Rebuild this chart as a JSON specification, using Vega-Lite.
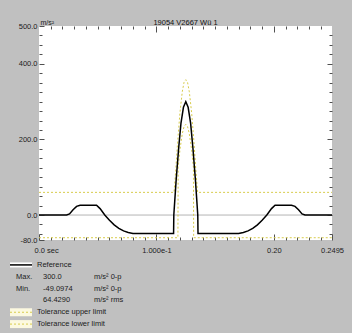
{
  "$schema": "https://vega.github.io/schema/vega-lite/v6.json",
  "background": "#c0c0c0",
  "padding": {"left": 6, "top": 18, "right": 9, "bottom": 3},
  "config": {
    "font": "Liberation Sans",
    "view": {"stroke": null},
    "axis": {"domain": false, "grid": false, "tickColor": "#505050", "labelColor": "#202020", "labelFontSize": 7.5, "labelFont": "Liberation Sans", "title": null, "labelFlush": false}
  },
  "datasets": {
    "ref": [
      {"t": 0, "v": 0}, {"t": 0.0235, "v": 0}, {"t": 0.026, "v": 3}, {"t": 0.029, "v": 14}, {"t": 0.032, "v": 23}, {"t": 0.035, "v": 26},
      {"t": 0.049, "v": 26}, {"t": 0.052, "v": 17}, {"t": 0.056, "v": 0}, {"t": 0.06, "v": -14}, {"t": 0.064, "v": -26}, {"t": 0.068, "v": -35},
      {"t": 0.072, "v": -42}, {"t": 0.076, "v": -46}, {"t": 0.08, "v": -48.5}, {"t": 0.084, "v": -49.1}, {"t": 0.1146, "v": -49.1},
      {"t": 0.1148, "v": 0}, {"t": 0.1168, "v": 93}, {"t": 0.1189, "v": 176}, {"t": 0.1209, "v": 243}, {"t": 0.123, "v": 285}, {"t": 0.125, "v": 300},
      {"t": 0.127, "v": 285}, {"t": 0.1291, "v": 243}, {"t": 0.1311, "v": 176}, {"t": 0.1332, "v": 93}, {"t": 0.1352, "v": 0}, {"t": 0.1354, "v": -49.1},
      {"t": 0.166, "v": -49.1}, {"t": 0.17, "v": -48.5}, {"t": 0.174, "v": -46}, {"t": 0.178, "v": -42}, {"t": 0.182, "v": -35}, {"t": 0.186, "v": -26},
      {"t": 0.19, "v": -14}, {"t": 0.194, "v": 0}, {"t": 0.198, "v": 17}, {"t": 0.201, "v": 26}, {"t": 0.215, "v": 26}, {"t": 0.218, "v": 23},
      {"t": 0.221, "v": 14}, {"t": 0.224, "v": 3}, {"t": 0.2265, "v": 0}, {"t": 0.2495, "v": 0}
    ],
    "upper": [
      {"t": 0, "v": 60}, {"t": 0.115, "v": 60}, {"t": 0.1165, "v": 121}, {"t": 0.118, "v": 191}, {"t": 0.12, "v": 270}, {"t": 0.122, "v": 326},
      {"t": 0.1235, "v": 351}, {"t": 0.125, "v": 358}, {"t": 0.1265, "v": 351}, {"t": 0.128, "v": 326}, {"t": 0.13, "v": 270}, {"t": 0.132, "v": 191},
      {"t": 0.1335, "v": 121}, {"t": 0.135, "v": 60}, {"t": 0.2495, "v": 60}
    ],
    "lower": [
      {"t": 0, "v": -60}, {"t": 0.1183, "v": -60}, {"t": 0.1185, "v": 126}, {"t": 0.12, "v": 172}, {"t": 0.122, "v": 215}, {"t": 0.1235, "v": 234},
      {"t": 0.125, "v": 240}, {"t": 0.1265, "v": 234}, {"t": 0.128, "v": 215}, {"t": 0.13, "v": 172}, {"t": 0.1315, "v": 126}, {"t": 0.1317, "v": -60},
      {"t": 0.2495, "v": -60}
    ],
    "zero": [{"t": 0, "v": 0}, {"t": 0.2495, "v": 0}],
    "keys": [
      {"r": 0, "c": 0, "c2": 2, "kind": "ref"},
      {"r": 4, "c": 0, "c2": 2, "kind": "tol"},
      {"r": 5, "c": 0, "c2": 2, "kind": "tol"}
    ],
    "texts": [
      {"r": 0, "c": 3, "text": "Reference"},
      {"r": 1, "c": 1, "text": "Max."}, {"r": 1, "c": 4, "text": "300.0"}, {"r": 1, "c": 5, "text": "m/s² 0-p"},
      {"r": 2, "c": 1, "text": "Min."}, {"r": 2, "c": 4, "text": "-49.0974"}, {"r": 2, "c": 5, "text": "m/s² 0-p"},
      {"r": 3, "c": 4, "text": "64.4290"}, {"r": 3, "c": 5, "text": "m/s² rms"},
      {"r": 4, "c": 3, "text": "Tolerance upper limit"},
      {"r": 5, "c": 3, "text": "Tolerance lower limit"}
    ]
  },
  "spacing": 19,
  "bounds": "flush",
  "vconcat": [
    {
      "width": 293,
      "height": 214,
      "title": {"text": "19054 V2667 Wü 1", "fontSize": 7.5, "fontWeight": "normal", "font": "Liberation Sans", "color": "#101010", "offset": -8, "frame": "group"},
      "view": {"fill": "white", "stroke": null},
      "resolve": {"axis": {"x": "independent", "y": "independent"}},
      "layer": [
        {
          "data": {"name": "zero"},
          "mark": {"type": "line", "color": "#b4b4b4", "strokeWidth": 1},
          "encoding": {
            "x": {"field": "t", "type": "quantitative", "scale": {"domain": [0, 0.2495], "nice": false, "zero": false},
              "axis": {"orient": "top", "values": [0.1, 0.2], "labels": false, "tickSize": -6}},
            "y": {"field": "v", "type": "quantitative", "scale": {"domain": [-66, 500], "nice": false, "zero": false},
              "axis": {"orient": "right", "values": [0, 200, 400], "labels": false, "tickSize": -5}}
          }
        },
        {
          "data": {"name": "upper"},
          "mark": {"type": "line", "color": "#d8cc4c", "strokeWidth": 1, "strokeDash": [2, 2]},
          "encoding": {
            "x": {"field": "t", "type": "quantitative", "scale": {"domain": [0, 0.2495], "nice": false, "zero": false},
              "axis": {"orient": "top", "values": [0.01, 0.02, 0.03, 0.04, 0.05, 0.06, 0.07, 0.08, 0.09, 0.11, 0.12, 0.13, 0.14, 0.15, 0.16, 0.17, 0.18, 0.19, 0.21, 0.22, 0.23, 0.24], "labels": false, "tickSize": -3}},
            "y": {"field": "v", "type": "quantitative", "scale": {"domain": [-66, 500], "nice": false, "zero": false},
              "axis": {"orient": "right", "values": [-50, -25, 25, 50, 75, 100, 125, 150, 175, 225, 250, 275, 300, 325, 350, 375, 425, 450, 475], "labels": false, "tickSize": -3}}
          }
        },
        {
          "data": {"name": "lower"},
          "mark": {"type": "line", "color": "#d8cc4c", "strokeWidth": 1, "strokeDash": [2, 2]},
          "encoding": {
            "x": {"field": "t", "type": "quantitative", "scale": {"domain": [0, 0.2495], "nice": false, "zero": false},
              "axis": {"orient": "bottom", "values": [0.01, 0.02, 0.03, 0.04, 0.05, 0.06, 0.07, 0.08, 0.09, 0.11, 0.12, 0.13, 0.14, 0.15, 0.16, 0.17, 0.18, 0.19, 0.21, 0.22, 0.23, 0.24], "labels": false, "tickSize": -3}},
            "y": {"field": "v", "type": "quantitative", "scale": {"domain": [-66, 500], "nice": false, "zero": false},
              "axis": {"orient": "left", "values": [-50, -25, 25, 50, 75, 100, 125, 150, 175, 225, 250, 275, 300, 325, 350, 375, 425, 450, 475], "labels": false, "tickSize": -3}}
          }
        },
        {
          "data": {"name": "ref"},
          "mark": {"type": "line", "color": "#000000", "strokeWidth": 1.5},
          "encoding": {
            "x": {"field": "t", "type": "quantitative", "scale": {"domain": [0, 0.2495], "nice": false, "zero": false},
              "axis": {"orient": "bottom", "values": [0, 0.1, 0.2, 0.2495], "tickSize": -6, "labelPadding": 12,
                "labelExpr": "datum.value == 0 ? '0.0 sec' : datum.value == 0.1 ? '1.000e-1' : datum.value == 0.2 ? '0.20' : '0.2495'",
                "labelAlign": {"condition": {"test": "datum.value == 0", "value": "left"}, "value": "center"},
                "labelOffset": {"condition": {"test": "datum.value == 0", "value": -5}, "value": 0}}},
            "y": {"field": "v", "type": "quantitative", "scale": {"domain": [-66, 500], "nice": false, "zero": false},
              "axis": {"orient": "left", "values": [-66, 0, 200, 400, 500], "tickSize": -5, "labelPadding": 7,
                "labelExpr": "datum.value < -50 ? '-80.0' : format(datum.value, '.1f')",
                "title": "m/s²", "titleAngle": 0, "titleAlign": "left", "titleBaseline": "bottom", "titleX": 1, "titleY": -1,
                "titleFontSize": 7, "titleFontWeight": "normal", "titleColor": "#202020", "titleFont": "Liberation Sans"}}
          }
        }
      ]
    },
    {
      "width": 293,
      "height": 71,
      "view": {"stroke": null, "fill": null},
      "encoding": {
        "y": {"field": "r", "type": "quantitative", "scale": {"domain": [-0.5, 5.5], "reverse": true}, "axis": null}
      },
      "layer": [
        {
          "data": {"name": "keys"},
          "transform": [{"filter": "datum.kind == 'ref'"}],
          "mark": {"type": "rule", "color": "#ffffff", "strokeWidth": 5},
          "encoding": {
            "x": {"field": "c", "type": "quantitative", "scale": {"domain": [0, 1, 2, 3, 4, 5], "range": [-29, -23, -7, -2, 4, 55]}, "axis": null},
            "x2": {"field": "c2"}
          }
        },
        {
          "data": {"name": "keys"},
          "transform": [{"filter": "datum.kind == 'ref'"}],
          "mark": {"type": "rule", "color": "#000000", "strokeWidth": 1.5},
          "encoding": {
            "x": {"field": "c", "type": "quantitative", "scale": {"domain": [0, 1, 2, 3, 4, 5], "range": [-29, -23, -7, -2, 4, 55]}, "axis": null},
            "x2": {"field": "c2"}
          }
        },
        {
          "data": {"name": "keys"},
          "transform": [{"filter": "datum.kind == 'tol'"}],
          "mark": {"type": "rule", "color": "#fcf9e0", "strokeWidth": 8},
          "encoding": {
            "x": {"field": "c", "type": "quantitative", "scale": {"domain": [0, 1, 2, 3, 4, 5], "range": [-29, -23, -7, -2, 4, 55]}, "axis": null},
            "x2": {"field": "c2"}
          }
        },
        {
          "data": {"name": "keys"},
          "transform": [{"filter": "datum.kind == 'tol'"}],
          "mark": {"type": "rule", "color": "#d8cc4c", "strokeWidth": 1, "strokeDash": [2, 2]},
          "encoding": {
            "x": {"field": "c", "type": "quantitative", "scale": {"domain": [0, 1, 2, 3, 4, 5], "range": [-29, -23, -7, -2, 4, 55]}, "axis": null},
            "x2": {"field": "c2"}
          }
        },
        {
          "data": {"name": "texts"},
          "mark": {"type": "text", "align": "left", "baseline": "middle", "fontSize": 7.5, "font": "Liberation Sans", "color": "#202020"},
          "encoding": {
            "x": {"field": "c", "type": "quantitative", "scale": {"domain": [0, 1, 2, 3, 4, 5], "range": [-29, -23, -7, -2, 4, 55]}, "axis": null},
            "text": {"field": "text"}
          }
        }
      ]
    }
  ]
}
